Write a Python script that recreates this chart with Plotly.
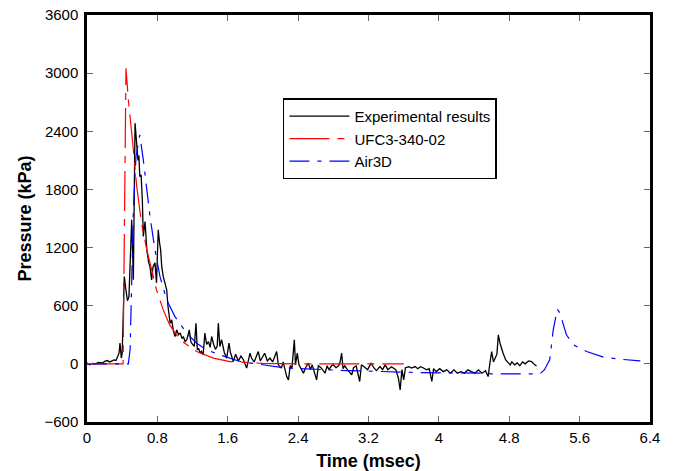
import plotly.graph_objects as go

# Experimental results (time in msec, pressure in kPa)
exp_t = [0.00, 0.03, 0.06, 0.10, 0.13, 0.156, 0.18, 0.20, 0.23, 0.26, 0.29, 0.307, 0.33, 0.344, 0.364,
         0.375, 0.39, 0.40, 0.424, 0.44, 0.46, 0.477, 0.495, 0.508, 0.52, 0.527, 0.546, 0.555, 0.565,
         0.58, 0.59, 0.60, 0.615, 0.629, 0.64, 0.66, 0.68, 0.70, 0.716, 0.735, 0.75, 0.773, 0.79, 0.81,
         0.825, 0.837, 0.85, 0.867, 0.89, 0.906, 0.92, 0.932, 0.945, 0.963, 0.98, 1.00, 1.02, 1.04,
         1.06, 1.08, 1.095, 1.115, 1.133, 1.15, 1.163, 1.18, 1.19, 1.22, 1.239, 1.254, 1.27, 1.285,
         1.30, 1.32, 1.34, 1.36, 1.38, 1.40, 1.417, 1.44, 1.46, 1.48, 1.493, 1.51, 1.53, 1.56, 1.588,
         1.614, 1.63, 1.663, 1.69, 1.72, 1.75, 1.78, 1.815, 1.853, 1.87, 1.90, 1.947, 1.97, 2.02, 2.05,
         2.08, 2.11, 2.156, 2.175, 2.21, 2.23, 2.25, 2.27, 2.29, 2.31, 2.33, 2.357, 2.37, 2.39, 2.41,
         2.43, 2.46, 2.49, 2.516, 2.54, 2.56, 2.61, 2.63, 2.66, 2.706, 2.73, 2.75, 2.78, 2.80, 2.83,
         2.86, 2.875, 2.895, 2.91, 2.93, 2.96, 3.01, 3.03, 3.06, 3.10, 3.12, 3.15, 3.19, 3.23, 3.26,
         3.29, 3.33, 3.36, 3.39, 3.42, 3.46, 3.51, 3.54, 3.56, 3.58, 3.60, 3.62, 3.66, 3.69, 3.73,
         3.76, 3.79, 3.82, 3.86, 3.89, 3.92, 3.94, 3.97, 4.01, 4.05, 4.09, 4.13, 4.17, 4.21, 4.25,
         4.29, 4.33, 4.37, 4.41, 4.45, 4.49, 4.53, 4.56, 4.58, 4.60, 4.62, 4.64, 4.66, 4.676, 4.695,
         4.73, 4.76, 4.79, 4.81, 4.83, 4.86, 4.89, 4.92, 4.95, 4.98, 5.02, 5.055, 5.09, 5.11]
exp_p = [10, -10, 5, 0, 15, 14, 10, 25, 34, 20, 30, 41, 35, 59, 110,
         215, 60, 110, 900, 780, 650, 695, 1200, 1486, 1100, 867, 2484, 2350, 2312,
         2100, 2150, 1933, 1950, 1693, 1314, 1469, 1176, 1050, 1004, 867, 1000, 1042, 836, 1383,
         1250, 1176, 1000, 900, 820, 764, 600, 488, 420, 454, 350, 282, 351, 300,
         320, 260, 282, 230, 248, 300, 351, 230, 213, 180, 420, 145, 160, 110,
         130, 93, 317, 200, 230, 170, 282, 200, 150, 180, 420, 179, 250, 120, 59,
         213, 120, 24, 100, 30, 80, 40, -44, 110, 60, 20, 127, 30, 110, 30,
         60, 20, 127, -10, -44, 20, -44, -131, -165, -20, -40, 248, -10, 110, -10,
         -40, -96, -30, 7, -60, -10, -165, -20, -40, -96, -20, -60, -20, -10, -40,
         -20, 10, 110, -50, -20, -60, -113, -40, -20, -182, -10, -30, -60, 7, -40,
         -70, -28, -60, -10, -60, -30, -60, -148, -268, -60, -165, -40, -30, -44, -28,
         -50, -30, -40, -62, -50, -182, -50, -80, -50, -80, -62, -96, -62, -96, -80,
         -96, -62, -80, -96, -62, -96, -70, -131, 7, 127, 20, 60, 100, 300, 213,
         110, 40, 10, -10, 20, -10, 10, -20, 20, 0, 30, 24, -10, -21]

# UFC3-340-02 prediction
ufc_t = [0.0, 0.41, 0.443, 0.47, 0.52, 0.565, 0.62, 0.68, 0.735, 0.79, 0.867, 0.94, 1.057, 1.247,
         1.436, 1.625, 2.0, 2.4, 3.6]
ufc_p = [0, 0, 3050, 2724, 2277, 1830, 1452, 1176, 970, 764, 557, 402, 248, 127,
         59, 24, 5, 0, 0]

# Air3D prediction
air_t = [0.0, 0.47, 0.49, 0.508, 0.527, 0.557, 0.60, 0.64, 0.68, 0.716, 0.773, 0.83, 0.906, 1.0,
         1.133, 1.247, 1.36, 1.51, 1.74, 2.0, 2.27, 2.95, 3.33, 3.79, 4.47, 4.6, 5.15, 5.2, 5.26,
         5.3, 5.346, 5.377, 5.41, 5.45, 5.53, 5.68, 5.87, 6.06, 6.29]
air_p = [0, 0, 145, 833, 1590, 2140, 2363, 2105, 1796, 1520, 1176, 900, 660, 488,
         317, 213, 145, 93, 24, -10, -44, -69, -79, -90, -96, -103, -103, -60, 41,
         351, 564, 523, 420, 300, 196, 127, 69, 48, 31]

x_ticks = [0, 0.8, 1.6, 2.4, 3.2, 4, 4.8, 5.6, 6.4]
x_labels = ["0", "0.8", "1.6", "2.4", "3.2", "4", "4.8", "5.6", "6.4"]
y_ticks = [-600, 0, 600, 1200, 1800, 2400, 3000, 3600]

FONT = "Arial, 'Liberation Sans', sans-serif"

fig = go.Figure()
fig.add_trace(go.Scatter(x=exp_t, y=exp_p, mode="lines", name="Experimental results",
                         line=dict(color="black", width=1.3)))
fig.add_trace(go.Scatter(x=ufc_t, y=ufc_p, mode="lines", name="UFC3-340-02",
                         line=dict(color="#ff0000", width=1.2, dash="40px,8px,7px,8px")))
fig.add_trace(go.Scatter(x=air_t, y=air_p, mode="lines", name="Air3D",
                         line=dict(color="#0000ff", width=1.2, dash="20px,8px,4px,8px")))

axis_common = dict(showline=True, linecolor="black", linewidth=2.5, mirror="ticks",
                   ticks="inside", ticklen=6, tickwidth=1, tickcolor="#666666",
                   showgrid=False, zeroline=False, automargin=False,
                   ticklabeloverflow="allow",
                   tickfont=dict(family=FONT, size=15, color="black"))

fig.update_xaxes(range=[0, 6.4], tickvals=x_ticks, ticktext=x_labels, ticklabelstandoff=0,
                 title=dict(text="<b>Time (msec)</b>", font=dict(family=FONT, size=18, color="black"),
                            standoff=10),
                 **axis_common)
fig.update_yaxes(range=[-600, 3600], tickvals=y_ticks, ticklabelstandoff=3,
                 title=dict(text="<b>Pressure (kPa)</b>", font=dict(family=FONT, size=18, color="black"),
                            standoff=9),
                 **axis_common)

fig.update_layout(
    width=675, height=471,
    margin=dict(l=87, r=25, t=15, b=49),
    plot_bgcolor="white", paper_bgcolor="white",
    font=dict(family=FONT, size=15, color="black"),
    legend=dict(x=0.348, y=0.795, xanchor="left", yanchor="top",
                bgcolor="white", bordercolor="black", borderwidth=1.5,
                font=dict(family=FONT, size=15, color="black"),
                itemwidth=60, tracegroupgap=0),
    showlegend=True,
)

# remove the default 8px page margin so the figure fills the window exactly
fig.write_html("out.html", config={"displayModeBar": False},
               post_script="document.body.style.margin='0';")
